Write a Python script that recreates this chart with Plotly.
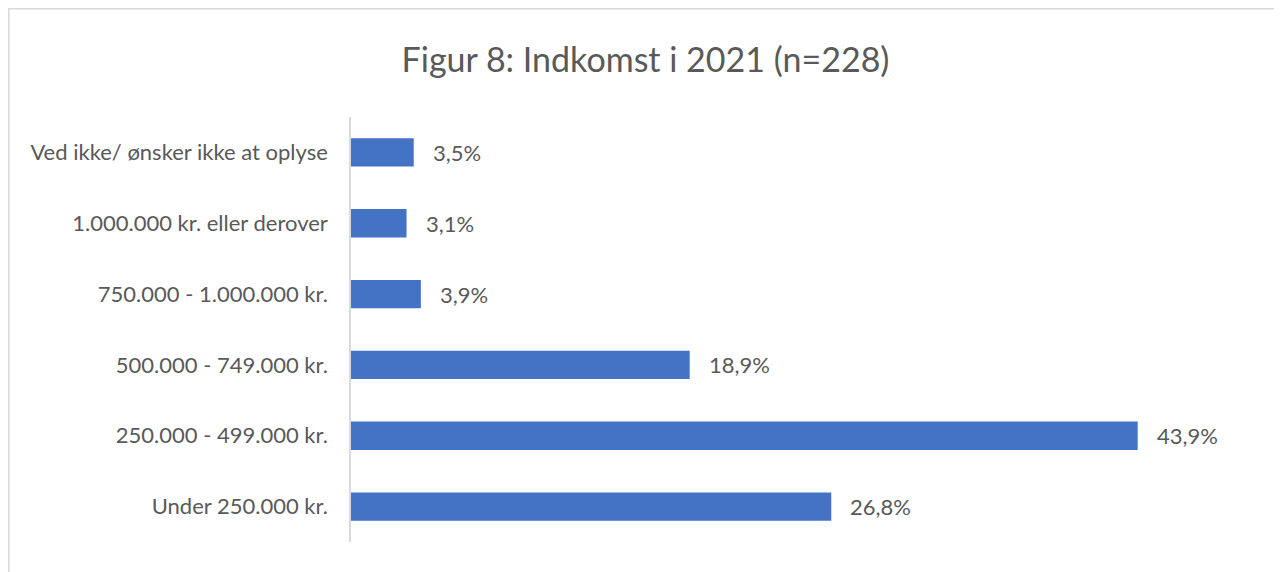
import plotly.graph_objects as go

categories = [
    "Under 250.000 kr.",
    "250.000 - 499.000 kr.",
    "500.000 - 749.000 kr.",
    "750.000 - 1.000.000 kr.",
    "1.000.000 kr. eller derover",
    "Ved ikke/ ønsker ikke at oplyse",
]
values = [26.8, 43.9, 18.9, 3.9, 3.1, 3.5]
labels = [f"{v:.1f}".replace(".", ",") + "%" for v in values]

FONT = "Lato"
GREY = "#595959"

fig = go.Figure(
    go.Bar(
        x=values,
        y=categories,
        orientation="h",
        marker=dict(color="#4472C4", line=dict(width=0)),
        hoverinfo="skip",
    )
)

for c, v, t in zip(categories, values, labels):
    fig.add_annotation(
        x=v, y=c, text=t, showarrow=False, xanchor="left", xshift=17,
        font=dict(family=FONT, size=22, color=GREY),
    )

W, H = 1282, 572
L, R, T, B = 343, 43, 109, 38
pw, ph = W - L - R, H - T - B
# chart frame along the figure edges (extends past right/bottom like the reference)
fig.add_shape(
    type="rect", xref="paper", yref="paper",
    x0=(0.75 - L) / pw, x1=(W + 20 - L) / pw,
    y0=-(B + 20) / ph, y1=1 + (T - 0.75) / ph,
    line=dict(color="#D9D9D9", width=1.5), fillcolor="rgba(0,0,0,0)",
    layer="below",
)

fig.update_layout(
    width=W, height=H,
    margin=dict(l=L, r=R, t=T, b=B),
    paper_bgcolor="white", plot_bgcolor="white",
    bargap=0.6,
    showlegend=False,
    title=dict(
        text="Figur 8: Indkomst i 2021 (n=228)",
        x=637.5 / W, xanchor="center",
        y=1 - 52 / H, yanchor="middle",
        font=dict(family=FONT, size=34, color=GREY),
    ),
    xaxis=dict(range=[0, 50], visible=False, fixedrange=True),
    yaxis=dict(
        showline=True, linecolor="#D9D9D9", linewidth=1.5,
        ticks="", ticklabelstandoff=17,
        tickfont=dict(family=FONT, size=22, color=GREY),
        showgrid=False, zeroline=False,
    ),
)

fig.write_html("out.html")
